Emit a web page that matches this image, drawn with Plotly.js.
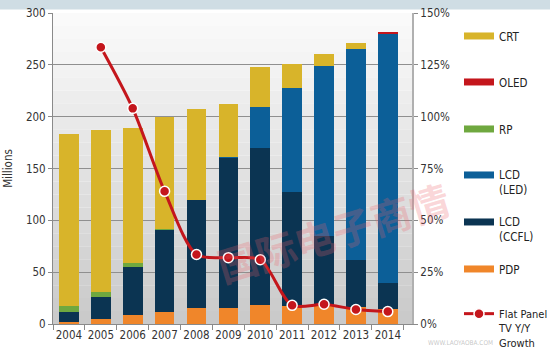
<!DOCTYPE html>
<html>
<head>
<meta charset="utf-8">
<script src="https://cdn.plot.ly/plotly-3.0.1.min.js"></script>
<style>html,body{margin:0;padding:0;background:#fff;}#chart{width:550px;height:350px;}</style>
</head>
<body>
<div id="chart"></div>
<script>
// ---- data ----
const years = ['2004','2005','2006','2007','2008','2009','2010','2011','2012','2013','2014'];
const pdp   = [2, 5, 9, 12, 15, 15, 18, 17, 17, 16, 14];
const ccfl  = [10, 21, 46, 79, 105, 145, 152, 110, 68, 46, 26];
const led   = [0, 0, 0, 0, 0, 1, 39, 101, 164, 203, 240];
const rp    = [5, 5, 4, 1, 0, 0, 0, 0, 0, 0, 0];
const oled  = [0, 0, 0, 0, 0, 0, 0, 0, 0, 0, 2];
const crt   = [166, 156, 130, 108, 87, 51, 39, 23, 11, 6, 0];
const growthYears = ['2005','2006','2007','2008','2009','2010','2011','2012','2013','2014'];
const growth = [133.5, 104, 64, 33.5, 32, 31, 9, 9.5, 7, 6];

const C = {crt:'#d8b42a', oled:'#c4161c', rp:'#6fa83f', led:'#0c5f98', ccfl:'#0b3452', pdp:'#f0862a', line:'#c4161c'};
const font = 'DejaVu Sans Condensed, DejaVu Sans, sans-serif';

function bar(name, vals, color){
  return {type:'bar', name:name, x:years, y:vals, marker:{color:color, line:{width:0}}, showlegend:false, hoverinfo:'skip'};
}
function legItem(name, color, leg){
  return {type:'scatter', mode:'lines', name:name, x:[years[0]], y:[null], line:{color:color, width:7}, legend:leg, showlegend:true, hoverinfo:'skip'};
}

const traces = [
  bar('PDP', pdp, C.pdp),
  bar('LCD (CCFL)', ccfl, C.ccfl),
  bar('LCD (LED)', led, C.led),
  bar('RP', rp, C.rp),
  bar('OLED', oled, C.oled),
  bar('CRT', crt, C.crt),
  {type:'scatter', mode:'lines+markers', name:'Flat Panel<br>TV Y/Y<br>Growth', x:growthYears, y:growth, yaxis:'y2',
   line:{color:C.line, width:3, shape:'spline', smoothing:0.8},
   marker:{color:C.line, size:10, line:{color:'#ffffff', width:1.5}}, legend:'legend7', hoverinfo:'skip'},
  legItem('CRT', C.crt, 'legend'),
  legItem('OLED', C.oled, 'legend2'),
  legItem('RP', C.rp, 'legend3'),
  legItem('LCD<br>(LED)', C.led, 'legend4'),
  legItem('LCD<br>(CCFL)', C.ccfl, 'legend5'),
  legItem('PDP', C.pdp, 'legend6')
];

// plot area pixel geometry helpers (styling only)
const L=53, R=412, T=13, B=324;
function py(p){ return (B-p)/(B-T); }
function px(p){ return (p-L)/(R-L); }

function leg(yPix, fs){
  return {x:px(459), y:py(yPix), xanchor:'left', yanchor:'top', bgcolor:'rgba(0,0,0,0)', borderwidth:0,
          valign:'top', font:{family:font, size:fs || 11.5, color:'#222'}, itemwidth:30, tracegroupgap:0};
}

const shapes = [];
// background gradient in plot area
const nb = 24;
for(let i=0;i<nb;i++){
  const t = i/(nb-1);
  const v = Math.round(250 - 48*t);
  shapes.push({type:'rect', xref:'paper', yref:'paper', x0:0, x1:1, y0:1-(i+1)/nb, y1:1-i/nb,
    fillcolor:`rgb(${v},${v},${v})`, line:{width:0}, layer:'below'});
}
// top band
shapes.push({type:'rect', xref:'paper', yref:'paper', x0:px(0), x1:px(550), y0:py(9.5), y1:py(0),
  fillcolor:'#cfdde4', line:{width:0}, layer:'below'});

const annotations = [
  {text:'国际电子商情', xref:'paper', yref:'paper', x:px(333), y:py(232), xanchor:'center', yanchor:'middle',
   showarrow:false, textangle:-17,
   font:{family:'Noto Sans CJK SC, sans-serif', size:40, color:'rgba(238,95,105,0.26)', weight:700}},
  {text:'WWW.LAOYAOBA.COM', xref:'paper', yref:'paper', x:px(460), y:py(343), xanchor:'center', yanchor:'middle',
   showarrow:false, font:{family:font, size:6.5, color:'rgba(150,150,150,0.55)'}}
];

const layout = {
  width:550, height:350,
  margin:{l:L, r:550-R, t:T, b:350-B, pad:0, autoexpand:false},
  paper_bgcolor:'#ffffff', plot_bgcolor:'rgba(0,0,0,0)',
  barmode:'stack', bargap:0.385,
  font:{family:font, size:11.5, color:'#333'},
  xaxis:{type:'category', showline:true, linecolor:'#8a8a8a', ticks:'outside', ticklen:5, tickcolor:'#8a8a8a',
         tickson:'boundaries', showgrid:false, tickangle:0, automargin:false,
         tickfont:{family:font, size:11.5, color:'#333'}, fixedrange:true},
  yaxis:{range:[0,300], dtick:50, showline:true, linecolor:'#8a8a8a', ticks:'outside', ticklen:4, tickcolor:'#8a8a8a',
         showgrid:true, gridcolor:'#8f8f8f', gridwidth:1, zeroline:false, automargin:false,
         tickfont:{family:font, size:11.5, color:'#333'},
         title:{text:'Millions', font:{family:font, size:11.5, color:'#333'}, standoff:10}},
  yaxis2:{range:[0,150], dtick:25, overlaying:'y', side:'right', ticksuffix:'%', showline:true, linecolor:'#b0b0b0', linewidth:2,
          ticks:'outside', ticklen:4, tickcolor:'#8a8a8a', showgrid:false, zeroline:false, automargin:false,
          tickfont:{family:font, size:11.5, color:'#333'}},
  legend: leg(22),
  legend2: leg(68),
  legend3: leg(115),
  legend4: leg(161),
  legend5: leg(208),
  legend6: leg(255),
  legend7: leg(300, 11),
  shapes: shapes,
  annotations: annotations
};

Plotly.newPlot('chart', traces, layout, {staticPlot:true, displayModeBar:false});
</script>
</body>
</html>
